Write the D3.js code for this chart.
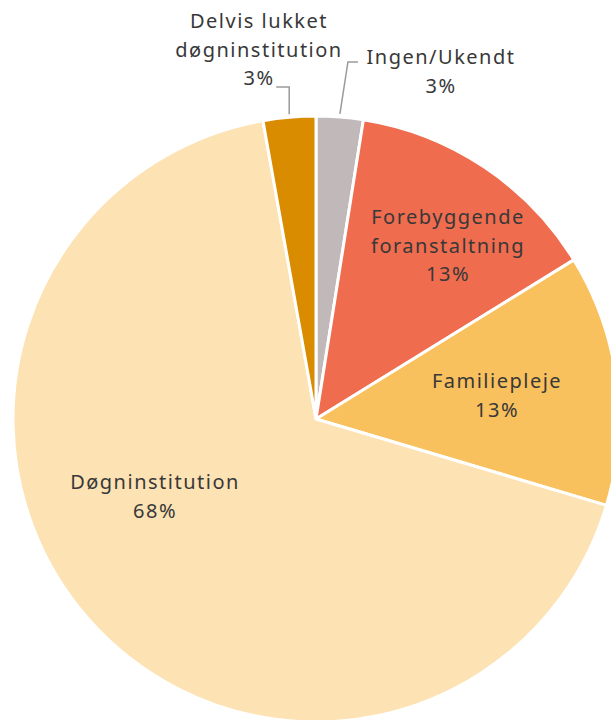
<!DOCTYPE html>
<html>
<head>
<meta charset="utf-8">
<script src="https://cdn.jsdelivr.net/npm/d3@7"></script>
<style>
  body { margin: 0; background: #fff; }
  svg text { font-family: "Noto Sans", "DejaVu Sans", sans-serif; fill: #383838; letter-spacing: 1.5px; }
</style>
</head>
<body>
<div id="chart"></div>
<script>
// data, clockwise from 12 o'clock
var categories = ['Ingen/Ukendt', 'Forebyggende foranstaltning', 'Familiepleje', 'Døgninstitution', 'Delvis lukket døgninstitution'];
var values = [2.5, 13.7, 13.4, 67.6, 2.8];
var pctLabels = ['3%', '13%', '13%', '68%', '3%'];
var colors = ['#c1b9b9', '#ef6c4f', '#f9c05e', '#fde2b4', '#d98c00'];

var width = 611;
var height = 720;
var cx = 316, cy = 419;
var radius = 303;

// label lines (split category text) and where they sit
var labelLines = [
	['Ingen/Ukendt'],
	['Forebyggende', 'foranstaltning'],
	['Familiepleje'],
	['Døgninstitution'],
	['Delvis lukket', 'døgninstitution']
];
// [x, y of first line] relative to pie centre
var labelAt = [[125, -362], [132, -202], [181, -38], [-161, 63], [-57, -398]];
var outside = [true, false, false, false, true];

var svg = d3.select('#chart')
	.append('svg')
	.attr('width', width)
	.attr('height', height);

var g = svg.append('g')
	.attr('transform', 'translate(' + cx + ',' + cy + ')');

var pie = d3.pie().sort(null).value(function(d){ return d; });
var arcs = pie(values);

var arc = d3.arc().innerRadius(0).outerRadius(radius);

g.selectAll('path.slice')
	.data(arcs)
	.enter()
	.append('path')
	.attr('class', 'slice')
	.attr('d', arc)
	.attr('fill', function(d, i){ return colors[i]; })
	.attr('stroke', '#fff')
	.attr('stroke-width', 3)
	.attr('stroke-linejoin', 'round');

// leader lines for the two small slices
var edgeArc = d3.arc().innerRadius(radius + 2).outerRadius(radius + 2);
arcs.forEach(function(d, i){
	if (!outside[i]) return;
	var p = edgeArc.centroid(d);
	var pts;
	if (i === 0) {
		pts = [[p[0], p[1] - 1], [p[0] + 8, -357], [p[0] + 18, -357]];
	} else {
		pts = [[p[0], p[1] - 1], [p[0], -332], [p[0] - 13, -332]];
	}
	g.append('path')
		.attr('d', d3.line()(pts))
		.attr('fill', 'none')
		.attr('stroke', '#9a9a9a')
		.attr('stroke-width', 1.5);
});

var lineH = 28.5;
arcs.forEach(function(d, i){
	var t = g.append('text')
		.attr('text-anchor', 'middle')
		.attr('font-size', 20);
	var lines = labelLines[i].concat([pctLabels[i]]);
	lines.forEach(function(s, k){
		t.append('tspan')
			.attr('x', labelAt[i][0])
			.attr('y', labelAt[i][1] + k * lineH)
			.attr('dy', '0.35em')
			.text(s);
	});
});
</script>
</body>
</html>
